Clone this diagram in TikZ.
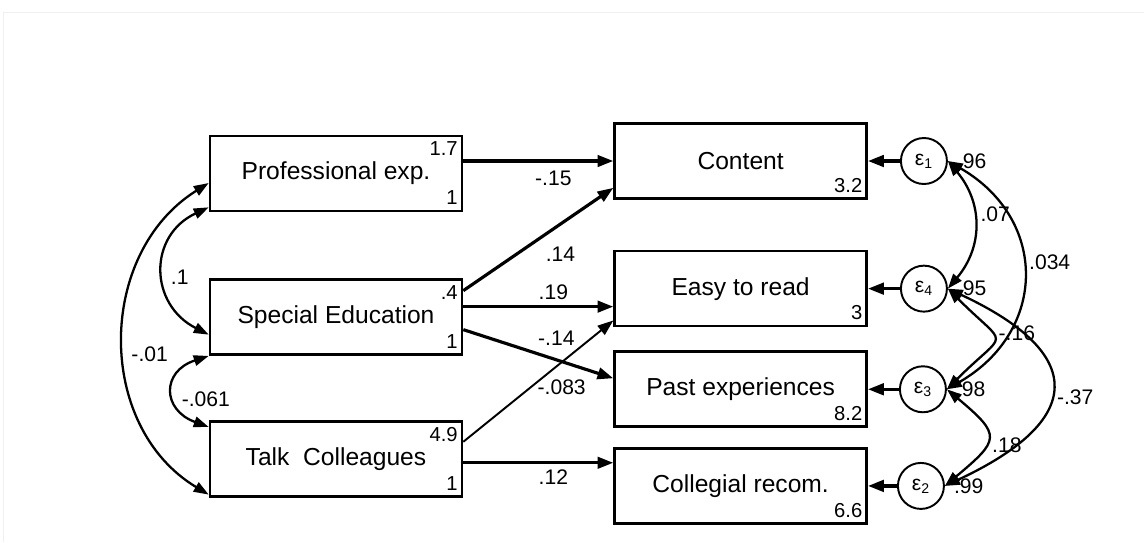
\documentclass[tikz,border=0pt]{standalone}
\usepackage{fontspec}
\setmainfont{Liberation Sans}
\usetikzlibrary{arrows.meta,positioning}

\begin{document}
\begin{tikzpicture}[
  font=\fontsize{14}{16}\selectfont,
  obs/.style={draw, line width=1.5pt, minimum width=5.04cm, minimum height=1.5cm, inner sep=0pt},
  err/.style={draw, circle, line width=1.1pt, minimum size=0.92cm, inner sep=0pt, font=\fontsize{12}{12}\selectfont},
  num/.style={font=\fontsize{11.5}{12}\selectfont, inner xsep=3pt, inner ysep=4pt},
  coef/.style={font=\fontsize{12}{13}\selectfont},
  arrow/.style={-{Triangle[length=9pt, width=6.5pt]}, line width=1.8pt},
  thinarrow/.style={-{Triangle[length=9pt, width=6.5pt]}, line width=1.1pt},
  cov/.style={{Triangle[length=8.5pt, width=6pt]}-{Triangle[length=8.5pt, width=6pt]}, line width=1.3pt}
]
  \useasboundingbox (0,0) rectangle (22.88,-10.84);
  \draw[black!6] (0.06,-10.84) -- (0.06,-0.24) -- (22.88,-0.24);

  % exogenous variables
  \node[obs, label={[num, anchor=north east]north east:1.7}, label={[num, anchor=south east]south east:1}] (pe) at (6.72,-3.47) {Professional exp.};
  \node[obs, below=1.32cm of pe, label={[num, anchor=north east]north east:.4}, label={[num, anchor=south east]south east:1}] (se) {Special Education};
  \node[obs, below=1.28cm of se, label={[num, anchor=north east]north east:4.9}, label={[num, anchor=south east]south east:1}] (tc) {Talk~\ Colleagues};

  % endogenous variables
  \node[obs, right=3cm of pe, yshift=0.25cm, label={[num, anchor=south east]south east:3.2}] (content) {Content};
  \node[obs, below=1cm of content, label={[num, anchor=south east]south east:3}] (easy) {Easy to read};
  \node[obs, below=0.46cm of easy, label={[num, anchor=south east]south east:8.2}] (past) {Past experiences};
  \node[obs, below=0.38cm of past, label={[num, anchor=south east]south east:6.6}] (coll) {Collegial recom.};

  % errors
  \node[err, right=0.64cm of content, label={[coef, label distance=0.06cm]east:.96}] (e1) {ε\textsubscript{1}};
  \node[err, right=0.64cm of easy, label={[coef, label distance=0.06cm]east:.95}] (e4) {ε\textsubscript{4}};
  \node[err, right=0.62cm of past, label={[coef, label distance=0.06cm]east:.98}] (e3) {ε\textsubscript{3}};
  \node[err, right=0.58cm of coll, label={[coef, label distance=0.06cm]east:.99}] (e2) {ε\textsubscript{2}};

  \draw[arrow] (e1) -- (content);
  \draw[arrow] (e4) -- (easy);
  \draw[arrow] (e3) -- (past);
  \draw[arrow] (e2) -- (coll);

  % paths
  \coordinate (pe_a) at (pe.east |- content.west);
  \coordinate (se_a) at ([yshift=0.21cm]se.east);
  \coordinate (tc_a) at ([yshift=-0.08cm]tc.east);
  \draw[arrow] (pe_a) -- node[coef, pos=0.6, below, yshift=-0.06cm]{-.15} (content.west);
  \draw[arrow] ([yshift=0.53cm]se.east) -- node[coef, pos=0.5, below right]{.14} ([yshift=0.24cm]content.south west);
  \draw[arrow] (se_a) -- node[coef, pos=0.6, above]{.19} (se_a -| easy.west);
  \draw[arrow] ([yshift=-0.25cm]se.east) -- node[coef, pos=0.62, above, yshift=0.14cm]{-.14} ([yshift=0.22cm]past.west);
  \draw[thinarrow] ([yshift=0.34cm]tc.east) -- node[coef, pos=0.45, right]{-.083} ([yshift=0.14cm]easy.south west);
  \draw[arrow] (tc_a) -- node[coef, pos=0.6, below]{.12} (tc_a -| coll.west);

  % covariances
  \draw[cov] ([yshift=0.1cm]pe.south west) to[out=205, in=153, looseness=1.35] node[coef, pos=0.55, right]{.1} ([yshift=-0.35cm]se.west);
  \draw[cov] ([yshift=-0.19cm]pe.west) to[out=212, in=149, looseness=1.09] node[coef, pos=0.54, right]{-.01} ([yshift=0.06cm]tc.south west);
  \draw[cov] (se.south west) to[out=198, in=160, looseness=1.8] node[coef, pos=0.6, right]{-.061} ([yshift=-0.14cm]tc.north west);

  \draw[cov] (e1.east) to[out=-50, in=50, looseness=1.1] node[coef, pos=0.42, right]{.07} (e4.east);
  \draw[cov] (e1.east) to[out=-30, in=30, looseness=1.3] node[coef, pos=0.45, right]{.034} (e3.east);
  \draw[cov] (e4.east) to[out=-45, in=45, looseness=2.2] node[coef, pos=0.4, right]{-.16} (e3.east);
  \draw[cov] (e4.east) to[out=-25, in=25, looseness=2] node[coef, pos=0.55, right]{-.37} (e2.east);
  \draw[cov] (e3.east) to[out=-40, in=40, looseness=1.9] node[coef, pos=0.6, right]{.18} (e2.east);
\end{tikzpicture}
\end{document}
